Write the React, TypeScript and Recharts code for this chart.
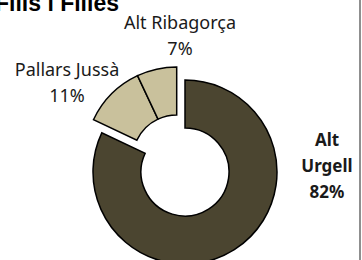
import { Cell, Pie, PieChart } from "recharts";

const regions = ["Alt Urgell", "Pallars Jussà", "Alt Ribagorça"];
const shares = [82, 11, 7];

const DARK = "#4b4530";
const LIGHT = "#c9c19c";

// label anchors (center x, first line y) and line breaks per slice
const labelPos = [
  { x: 327, y: 146, bold: true, lines: ["Alt", "Urgell"] },
  { x: 67, y: 76, bold: false, lines: ["Pallars Jussà"] },
  { x: 180, y: 29, bold: false, lines: ["Alt Ribagorça"] },
];

const data = regions.map((name, i) => ({ name, value: shares[i] }));

function SliceLabel(props: any) {
  const { index, percent } = props;
  const p = labelPos[index];
  const rows = [...p.lines, `${Math.round(percent * 100)}%`];
  return (
    <text
      textAnchor="middle"
      fontFamily="'Noto Sans', sans-serif"
      fontSize={p.bold ? 17 : 18}
      fontWeight={p.bold ? 700 : 400}
      fill="#1a1a1a"
    >
      {rows.map((r, k) => (
        <tspan key={k} x={p.x} y={p.y + k * 26}>
          {r}
        </tspan>
      ))}
    </text>
  );
}

export default function App() {
  const cx = 180;
  const cy = 167;
  return (
    <div style={{ position: "absolute", left: 0, top: 0, width: 362, height: 260, overflow: "hidden", background: "#fff" }}>
      <div style={{ position: "absolute", left: 359, top: 0, width: 2, height: 260, background: "#8f8f8f" }} />
      <div
        style={{
          position: "absolute",
          left: -5,
          top: -12,
          fontFamily: "'Liberation Sans', Arial, sans-serif",
          fontWeight: 700,
          fontSize: 23,
          lineHeight: "30px",
          color: "#000",
          whiteSpace: "nowrap",
        }}
      >
        Fills i Filles
      </div>
      <PieChart width={362} height={260} style={{ position: "absolute", left: 0, top: 0 }}>
        <Pie
          data={data}
          dataKey="value"
          nameKey="name"
          cx={cx}
          cy={cy}
          innerRadius={44}
          outerRadius={92}
          startAngle={90}
          endAngle={-270}
          stroke="#000"
          strokeWidth={1.5}
          label={SliceLabel}
          labelLine={false}
          isAnimationActive={false}
        >
          {data.map((d, i) => (
            <Cell key={d.name} fill={i === 0 ? DARK : "none"} stroke={i === 0 ? "#000" : "none"} />
          ))}
        </Pie>
        <Pie
          data={data}
          dataKey="value"
          nameKey="name"
          cx={cx - 8.3}
          cy={cy - 13.1}
          innerRadius={44}
          outerRadius={92}
          startAngle={90}
          endAngle={-270}
          stroke="#000"
          strokeWidth={1.5}
          isAnimationActive={false}
        >
          {data.map((d, i) => (
            <Cell key={d.name} fill={i === 0 ? "none" : LIGHT} stroke={i === 0 ? "none" : "#000"} />
          ))}
        </Pie>
      </PieChart>
    </div>
  );
}
